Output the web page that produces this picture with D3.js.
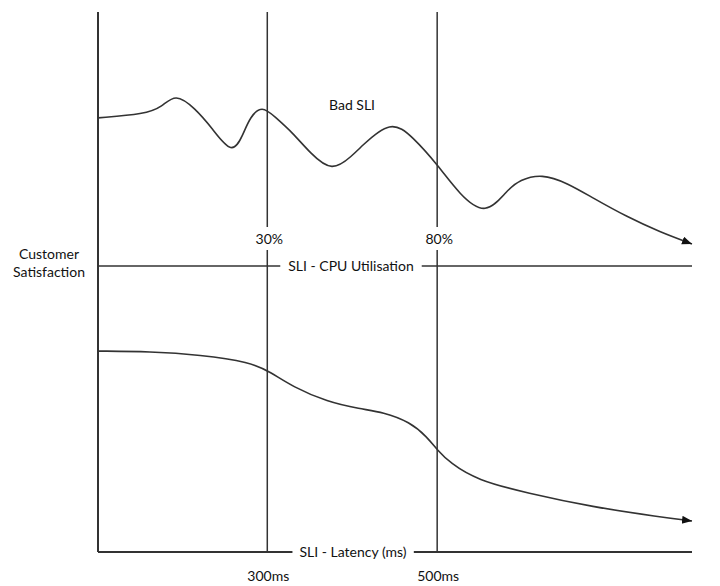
<!DOCTYPE html>
<html><head><meta charset="utf-8">
<script src="https://cdn.jsdelivr.net/npm/d3@7"></script>
<style>body{margin:0;background:#fff}svg{display:block}</style>
</head><body>
<svg id="c" width="720" height="586"></svg>
<script>
// ---- data ----
const yAxisLabel = ["Customer", "Satisfaction"];
const topAxisLabel = "SLI - CPU Utilisation";
const bottomAxisLabel = "SLI - Latency (ms)";
const topSeriesLabel = "Bad SLI";
const markerPositions = [28.5, 57.1];
const topTickLabels = ["30%", "80%"];
const bottomTickLabels = ["300ms", "500ms"];

const topX = [0,7.9,10.8,13.0,16.3,19.2,22.6,24.4,25.6,27.6,29.8,32.8,35.7,39.4,42.9,44.1,49.3,53.0,57.2,60.9,65.3,68.9,71.0,74.7,79.0,83.3,89.1,94.6,100];
const topY = [58.3,59.8,62.6,68.0,62.2,54.3,43.5,51.6,58.7,63.2,58.7,52.4,44.5,36.8,43.7,46.5,57.8,50.8,39.8,28.0,19.6,29.9,33.9,36.3,32.7,26.8,19.3,13.4,8.7];

const bottomX = [0,8.8,17.2,25.6,29.0,32.8,38.6,44.1,48.0,52.5,55.4,57.1,59.3,63.8,72.2,83.3,94.6,100];
const bottomY = [79.1,78.9,77.6,74.8,70.9,65.0,59.1,56.3,55.1,51.2,45.3,40.2,35.0,28.3,23.2,17.7,13.8,12.2];

// ---- layout ----
const svg = d3.select("#c");
const ink = "#333";
const font = "Lato, 'Open Sans', sans-serif";
const x = d3.scaleLinear().domain([0,100]).range([98,692]);
const yTop = d3.scaleLinear().domain([0,100]).range([266,12]);
const yBot = d3.scaleLinear().domain([0,100]).range([552,298]);

svg.append("defs").append("marker")
  .attr("id","arr").attr("markerUnits","userSpaceOnUse")
  .attr("markerWidth",12).attr("markerHeight",10)
  .attr("refX",10).attr("refY",4).attr("orient","auto")
  .append("path").attr("d","M0,0L10,4L0,8Z").attr("fill","#111");

// vertical marker lines
markerPositions.forEach(p => {
  svg.append("line").attr("x1",x(p)).attr("x2",x(p))
    .attr("y1",12).attr("y2",yBot(0))
    .attr("stroke",ink).attr("stroke-width",1.5);
});
// horizontal axes
svg.append("line").attr("x1",x(0)).attr("x2",x(100))
  .attr("y1",yTop(0)).attr("y2",yTop(0)).attr("stroke",ink).attr("stroke-width",1.5);
svg.append("line").attr("x1",x(0)).attr("x2",x(100))
  .attr("y1",yBot(0)).attr("y2",yBot(0)).attr("stroke",ink).attr("stroke-width",2);
// left axis
svg.append("line").attr("x1",x(0)).attr("x2",x(0))
  .attr("y1",12).attr("y2",yBot(0)).attr("stroke",ink).attr("stroke-width",2);

// curves
const lineTop = d3.line().x((d,i)=>x(topX[i])).y((d,i)=>yTop(topY[i])).curve(d3.curveBasis);
const lineBot = d3.line().x((d,i)=>x(bottomX[i])).y((d,i)=>yBot(bottomY[i])).curve(d3.curveBasis);
svg.append("path").attr("d",lineTop(topY)).attr("fill","none").attr("stroke",ink)
  .attr("stroke-width",1.6).attr("marker-end","url(#arr)");
svg.append("path").attr("d",lineBot(bottomY)).attr("fill","none").attr("stroke",ink)
  .attr("stroke-width",1.6).attr("marker-end","url(#arr)");

// text helper with white knock-out
function label(txt, cx, baseline, padX, padY){
  const g = svg.append("g");
  const t = g.append("text").attr("x",cx).attr("y",baseline).attr("text-anchor","middle")
    .attr("font-family",font).attr("font-size",14).attr("fill","#111").text(txt);
  const b = t.node().getBBox();
  g.insert("rect","text").attr("x",b.x-padX).attr("y",b.y-padY)
    .attr("width",b.width+2*padX).attr("height",b.height+2*padY).attr("fill","#fff");
  return g;
}
label(topAxisLabel, 351, yTop(0)+5, 8, 0);
label(bottomAxisLabel, 353, yBot(0)+5, 7, 0);
topTickLabels.forEach((t,i)=>label(t, x(markerPositions[i])+2, 244, 2, 3));
bottomTickLabels.forEach((t,i)=>label(t, x(markerPositions[i])+1, 581, 0, 0));
label(topSeriesLabel, 352, 110, 0, 0);
yAxisLabel.forEach((t,i)=>label(t, 49, 259+i*18, 0, 0));
</script>
</body></html>
